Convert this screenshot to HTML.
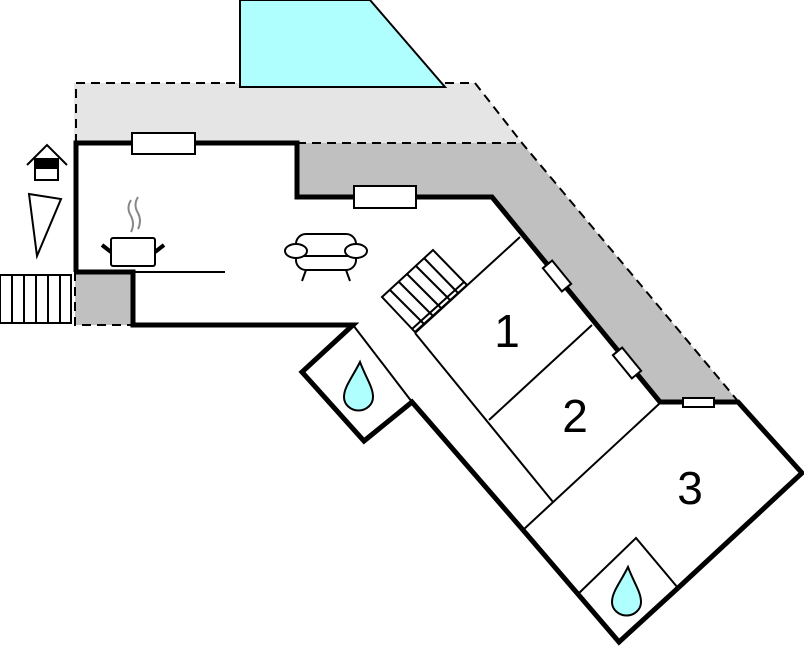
<!DOCTYPE html>
<html><head><style>html,body{margin:0;padding:0;background:#fff}svg{display:block}</style></head>
<body>
<svg width="804" height="652" viewBox="0 0 804 652" xmlns="http://www.w3.org/2000/svg">
<polygon points="74,83 475,83 522,143 300,143 300,143 74,143" fill="#e5e5e5"/>
<polygon points="297,143 522,143 737,400 660,402 492,197 297,197" fill="#c0c0c0"/>
<rect x="75" y="272" width="58" height="53" fill="#c0c0c0"/>
<polygon points="240,0 370,0 445,87 240,87" fill="#b0ffff" stroke="#000" stroke-width="2"/>
<g stroke="#000" stroke-width="2" fill="none" stroke-dasharray="9,6">
<polyline points="76,143 76,83 240,83"/>
<polyline points="445,83 475,83 522,143 737,400"/>
<line x1="297" y1="143" x2="522" y2="143"/>
<polyline points="75,272 75,325 133,325"/>
</g>
<g stroke="#000" stroke-width="5" fill="none" stroke-linejoin="miter">
<polyline points="76,272 76,143 297,143 297,197 492,197 660,402 738,402 802,473 678,588"/>
<polyline points="678,588 619,642 523,530 412,402 364,441 302,372 353,325 133,325 133,272 76,272"/>
</g>
<!-- stairs diagonal -->
<g stroke="#000" stroke-width="2" fill="#fff">
<polygon points="382,297 433,250 467,285 415,332"/>
<line x1="390" y1="290" x2="424" y2="324"/>
<line x1="399" y1="282" x2="433" y2="316"/>
<line x1="407" y1="274" x2="441" y2="308"/>
<line x1="416" y1="266" x2="450" y2="300"/>
<line x1="424" y1="258" x2="458" y2="293"/>
</g>
<g stroke="#000" stroke-width="2" fill="none">
<line x1="133" y1="272" x2="225" y2="272"/>
<line x1="353" y1="325" x2="412" y2="402"/>
<line x1="415" y1="333" x2="520" y2="237"/>
<line x1="412" y1="329" x2="464" y2="282"/>
<line x1="415" y1="333" x2="553" y2="502"/>
<line x1="489" y1="420" x2="592" y2="325"/>
<line x1="523" y1="530" x2="659" y2="404"/>
<polyline points="577,595 636,538 678,588"/>
</g>
<g stroke="#000" stroke-width="2" fill="#fff">
<rect x="0" y="275" width="71" height="48"/>
<line x1="12" y1="275" x2="12" y2="323"/><line x1="24" y1="275" x2="24" y2="323"/>
<line x1="36" y1="275" x2="36" y2="323"/><line x1="48" y1="275" x2="48" y2="323"/>
<line x1="60" y1="275" x2="60" y2="323"/>
</g>
<g stroke="#000" stroke-width="2" fill="#fff">
<rect x="132" y="133" width="63" height="21"/>
<rect x="354" y="186" width="62" height="22"/>
<rect x="683" y="398" width="31" height="9"/>
<rect x="-15" y="-6" width="30" height="12" transform="translate(557,276) rotate(50.7)"/>
<rect x="-15" y="-6" width="30" height="12" transform="translate(627,363) rotate(50.7)"/>
</g>
<g stroke="#000" stroke-width="2" fill="#b0ffff">
<path d="M360,362 C352,378 344,387 344,397 A14,13 0 0 0 373,397 C373,387 366,378 360,362 Z"/>
<path d="M628,567 C620,583 612,592 612,602 A14,13 0 0 0 641,602 C641,592 634,583 628,567 Z"/>
</g>
<g stroke="#000" stroke-width="2" fill="#fff">
<rect x="111" y="238" width="44" height="28" rx="2"/>
<line x1="111" y1="252" x2="102" y2="245" stroke-width="4"/>
<line x1="155" y1="252" x2="164" y2="245" stroke-width="4"/>
</g>
<g stroke="#888" stroke-width="2" fill="none">
<path d="M131,200 q-5,8 0,16 q4,8 0,16"/>
<path d="M138,197 q-5,8 0,16 q4,8 0,16"/>
</g>
<g stroke="#000" stroke-width="2" fill="#fff">
<rect x="296" y="234" width="60" height="36" rx="10"/>
<line x1="306" y1="270" x2="302" y2="281"/><line x1="346" y1="270" x2="350" y2="281"/>
<line x1="300" y1="256" x2="352" y2="256"/>
<ellipse cx="296" cy="251" rx="11" ry="7"/>
<ellipse cx="356" cy="251" rx="11" ry="7"/>
</g>
<g stroke="#000" stroke-width="2" fill="#fff">
<polyline points="27,165 47,145 67,165" fill="none"/>
<rect x="35" y="159" width="23" height="21"/>
<rect x="35" y="159" width="23" height="9" fill="#000"/>
<polygon points="29,194 61,199 37,256"/>
</g>
<g font-family="Liberation Sans, sans-serif" font-size="46" fill="#000" text-anchor="middle">
<text x="507" y="347">1</text>
<text x="575" y="432">2</text>
<text x="690" y="504">3</text>
</g>
</svg>
</body></html>
